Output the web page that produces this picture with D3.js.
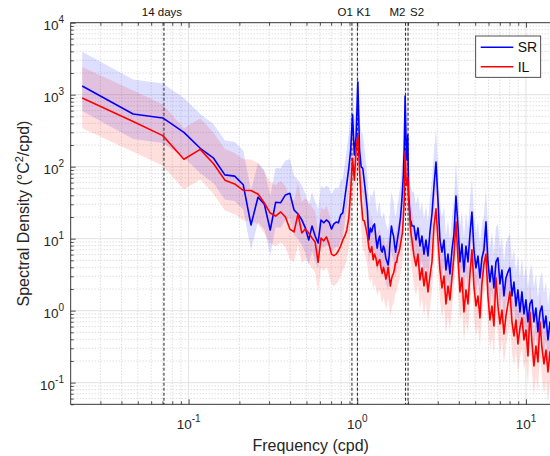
<!DOCTYPE html>
<html>
<head>
<meta charset="utf-8">
<script src="https://cdn.jsdelivr.net/npm/d3@7"></script>
<style>
body { margin: 0; background: #fff; }
svg { display: block; font-family: "Liberation Sans", Arial, Helvetica, sans-serif; }
</style>
</head>
<body>
<div id="chart"></div>
<script>
// frequencies (cpd)
let freq = [
  0.0234,0.0469,0.0703,0.0938,0.1172,0.1406,0.1641,0.1875,0.2109,0.2344,
  0.2578,0.2813,0.3047,0.3281,0.3516,0.375,0.3984,0.4219,0.4453,0.4688,
  0.4922,0.5156,0.5391,0.5625,0.5859,0.6094,0.6328,0.6563,0.6797,0.7031,
  0.7266,0.75,0.7734,0.7969,0.8203,0.8438,0.8672,0.8906,0.9141,0.9375,
  0.9609,0.9844,1.0078,1.0313,1.0547,1.0781,1.1016,1.125,1.1484,1.1719,
  1.1953,1.2188,1.2422,1.2656,1.2891,1.3125,1.3359,1.3594,1.3828,1.4063,
  1.4297,1.4531,1.4766,1.5,1.5234,1.5469,1.5703,1.5938,1.6172,1.6406,
  1.6641,1.6875,1.7109,1.7344,1.7578,1.7813,1.8047,1.8281,1.8516,1.875,
  1.8984,1.9219,1.9453,1.9688,1.9922,2.0156,2.0391,2.0625,2.0859,2.1094,
  2.168,2.228,2.29,2.353,2.418,2.486,2.554,2.625,2.698,2.772,
  2.849,2.928,3.009,3.092,3.178,3.266,3.356,3.449,3.544,3.642,
  3.743,3.847,3.953,4.062,4.175,4.29,4.409,4.531,4.656,4.785,
  4.917,5.053,5.193,5.337,5.484,5.636,5.792,5.952,6.117,6.286,
  6.46,6.639,6.823,7.012,7.205,7.405,7.61,7.82,8.036,8.26,
  8.489,8.724,8.965,9.213,9.469,9.73,10.0,10.28,10.56,10.85,
  11.15,11.46,11.78,12.11,12.44,12.79,13.14,13.51,13.88,14.26
];

// spectral density, SR (degC^2/cpd)
let srPsd = [
  1320,540,475,300,180,131,77,74,56,15.5,
  37.6,30,13.2,32,31.6,40.5,42.7,25,22,18.2,
  14.1,9.6,15,10.9,8.7,18.2,16.6,18.2,17,13.6,
  16,17,16.6,21.4,22.8,36.7,59,95,171,524,
  145,267,1500,171,99,95,61,40,25,9.6,
  14,12.4,15,16,10.2,7.4,9.6,10.9,7.0,6.5,
  7.9,7.0,5.4,4.8,4.3,5.9,10.2,15,12.4,10.9,
  8.2,6.5,8.2,10.2,12.4,15.5,20,29,45,76,
  181,960,235,124,275,40,27,18.2,17,15,
  15.0,9.6,14.1,7.9,10.9,6.1,9.6,5.75,12.4,22.0,
  53.9,116,34.5,9.6,6.5,9.6,3.67,6.1,3.23,7.0,
  11.6,39.2,15.0,4.75,8.4,3.45,7.9,4.75,11.6,23.5,
  7.0,3.92,5.75,2.85,5.4,7.0,17.1,4.75,2.5,4.18,
  2.07,4.75,5.4,2.35,3.67,1.6,2.85,3.45,3.92,1.6,
  2.5,1.16,1.94,0.959,1.82,0.9,1.41,0.697,1.24,1.41,
  0.697,1.09,0.506,0.959,1.16,0.575,0.844,0.392,0.697,0.475
];

// spectral density, IL (degC^2/cpd)
let ilPsd = [
  900,425,270,127,174,110,65,57.5,47,46.6,
  41.7,31.3,22.7,20.6,23.5,20,13.6,12.4,22,12,
  13.6,12,10.2,9,4.7,10.2,9.3,10.6,8.4,6.1,
  5.8,6.1,6.8,7.9,9.6,10.9,13.2,19.4,47,131,
  65,171,275,90,34.5,18.2,17.6,14,10.9,7.4,
  6.5,7.7,5.1,6.1,5.4,4.2,4.8,5.1,3.9,3.3,
  4.0,3.4,2.75,3.2,4.0,3.0,2.2,2.7,3.1,3.3,
  3.9,4.7,4.7,5.8,6.3,7.0,8.4,10.2,12,19.4,
  34.5,162,70,55,71,36.7,25,15.5,11.2,9.6,
  5.75,4.18,6.1,2.67,3.92,2.2,3.45,1.82,3.03,4.75,
  15.0,25.9,9.6,3.67,2.07,3.03,1.24,2.2,1.41,2.85,
  5.75,17.1,5.4,1.82,2.85,0.959,1.94,1.24,3.23,7.0,
  2.2,1.16,1.6,0.792,2.35,4.45,6.1,1.6,0.743,1.16,
  0.613,2.85,1.16,0.654,1.02,0.475,0.844,1.24,1.82,0.697,
  0.445,0.743,0.345,0.575,0.792,0.392,0.539,0.235,0.959,0.367,
  0.171,0.323,0.194,0.697,0.303,0.182,0.284,0.141,0.267,0.182
];

// 95% confidence factors [lower, upper]
let srCi = [0.45, 3.0];
let ilCi = [0.38, 2.7];

let seriesNames = ['SR', 'IL'];
let tideNames = ['14 days', 'O1', 'K1', 'M2', 'S2'];
let tideFreqs = [1 / 14, 0.9295, 1.0027, 1.9323, 2.0];
let xTickExps = [-1, 0, 1];
let yTickExps = [-1, 0, 1, 2, 3, 4];

let width = 550;
let height = 456;
let pLeft = 70.7, pRight = 550.6, pTop = 22.7, pBottom = 404.3;
let axisColor = '#262626';

let x = d3.scaleLog().domain([0.02, 14]).range([pLeft, pRight]);
let y = d3.scaleLog().domain([0.05, 1e4]).range([pBottom, pTop]);

let svg = d3.select('#chart').append('svg')
            .attr('width', width)
            .attr('height', height);

svg.append('defs').append('clipPath').attr('id', 'plot-clip')
    .append('rect')
        .attr('x', pLeft).attr('y', pTop)
        .attr('width', pRight - pLeft).attr('height', pBottom - pTop);

// grid values
let xMajor = [], xMinor = [], yMajor = [], yMinor = [];
for (let e = -2; e <= 1; e++) {
    for (let m = 1; m <= 9; m++) {
        let v = m * Math.pow(10, e);
        if (v <= x.domain()[0] || v >= x.domain()[1]) continue;
        (m == 1 ? xMajor : xMinor).push(v);
    }
}
for (let e = -2; e <= 4; e++) {
    for (let m = 1; m <= 9; m++) {
        let v = m * Math.pow(10, e);
        if (v < y.domain()[0] || v > y.domain()[1]) continue;
        (m == 1 ? yMajor : yMinor).push(v);
    }
}

let grid = svg.append('g').attr('clip-path', 'url(#plot-clip)');
grid.selectAll('.gx-minor').data(xMinor).join('line')
    .attr('x1', d => x(d)).attr('x2', d => x(d))
    .attr('y1', pTop).attr('y2', pBottom)
    .attr('stroke', '#c4c4c4').attr('stroke-width', 0.8).attr('stroke-dasharray', '1,2');
grid.selectAll('.gy-minor').data(yMinor).join('line')
    .attr('x1', pLeft).attr('x2', pRight)
    .attr('y1', d => y(d)).attr('y2', d => y(d))
    .attr('stroke', '#c4c4c4').attr('stroke-width', 0.8).attr('stroke-dasharray', '1,2');
grid.selectAll('.gx-major').data(xMajor).join('line')
    .attr('x1', d => x(d)).attr('x2', d => x(d))
    .attr('y1', pTop).attr('y2', pBottom)
    .attr('stroke', '#dcdcdc').attr('stroke-width', 0.8);
grid.selectAll('.gy-major').data(yMajor).join('line')
    .attr('x1', pLeft).attr('x2', pRight)
    .attr('y1', d => y(d)).attr('y2', d => y(d))
    .attr('stroke', '#dcdcdc').attr('stroke-width', 0.8);

// data
let sr = freq.map((f, i) => ({f: f, v: srPsd[i]}));
let il = freq.map((f, i) => ({f: f, v: ilPsd[i]}));

let band = ci => d3.area()
    .x(d => x(d.f))
    .y0(d => y(d.v * ci[0]))
    .y1(d => y(d.v * ci[1]));
let line = d3.line().x(d => x(d.f)).y(d => y(d.v));

let plot = svg.append('g').attr('clip-path', 'url(#plot-clip)');
plot.append('path').datum(sr).attr('d', band(srCi))
    .attr('fill', '#0000ff').attr('fill-opacity', 0.13);
plot.append('path').datum(il).attr('d', band(ilCi))
    .attr('fill', '#ff0000').attr('fill-opacity', 0.13);

// tidal constituent markers
let anchors = {'14 days': 'middle', 'O1': 'end', 'K1': 'start', 'M2': 'end', 'S2': 'start'};
let nudge = {'14 days': -2, 'O1': 1, 'K1': -1, 'M2': 0, 'S2': 2};
plot.selectAll('.tide').data(tideFreqs).join('line')
    .attr('x1', d => x(d)).attr('x2', d => x(d))
    .attr('y1', pTop).attr('y2', pBottom)
    .attr('stroke', '#333').attr('stroke-width', 1.1).attr('stroke-dasharray', '3,2');

plot.append('path').datum(sr).attr('d', line)
    .attr('fill', 'none').attr('stroke', '#0000ff').attr('stroke-width', 1.6)
    .attr('stroke-linejoin', 'round');
plot.append('path').datum(il).attr('d', line)
    .attr('fill', 'none').attr('stroke', '#ff0000').attr('stroke-width', 1.6)
    .attr('stroke-linejoin', 'round');

svg.selectAll('.tide-label').data(tideNames).join('text')
    .attr('x', (d, i) => x(tideFreqs[i]) + nudge[d])
    .attr('y', 16)
    .attr('text-anchor', d => anchors[d])
    .attr('font-size', 11.5)
    .attr('fill', '#111')
    .text(d => d);

// axes box and ticks
let tickAxis = (axis, scale, vals, size, tr) => {
    let g = svg.append('g').attr('transform', tr)
        .call(axis(scale).tickValues(vals).tickSize(size).tickSizeOuter(0).tickFormat(''));
    g.select('.domain').remove();
    g.selectAll('line').attr('stroke', axisColor).attr('stroke-width', 0.8);
};
tickAxis(d3.axisBottom, x, xMajor, -5, `translate(0,${pBottom})`);
tickAxis(d3.axisBottom, x, xMinor, -3, `translate(0,${pBottom})`);
tickAxis(d3.axisTop, x, xMajor, -5, `translate(0,${pTop})`);
tickAxis(d3.axisTop, x, xMinor, -3, `translate(0,${pTop})`);
tickAxis(d3.axisLeft, y, yMajor, -5, `translate(${pLeft},0)`);
tickAxis(d3.axisLeft, y, yMinor, -3, `translate(${pLeft},0)`);

svg.append('rect')
    .attr('x', pLeft).attr('y', pTop)
    .attr('width', pRight - pLeft).attr('height', pBottom - pTop)
    .attr('fill', 'none').attr('stroke', axisColor).attr('stroke-width', 0.9);

// tick labels
let xl = svg.selectAll('.xlab').data(xTickExps).join('text')
    .attr('x', d => x(Math.pow(10, d)))
    .attr('y', 429)
    .attr('text-anchor', 'middle')
    .attr('font-size', 13.5)
    .attr('fill', axisColor);
xl.append('tspan').text('10');
xl.append('tspan').attr('dy', -7).attr('font-size', 10).text(d => d);

let yl = svg.selectAll('.ylab').data(yTickExps).join('text')
    .attr('x', 64)
    .attr('y', d => y(Math.pow(10, d)) + 7.5)
    .attr('text-anchor', 'end')
    .attr('font-size', 13.5)
    .attr('fill', axisColor);
yl.append('tspan').text('10');
yl.append('tspan').attr('dy', -7).attr('font-size', 10).text(d => d);

// axis titles
svg.append('text')
    .attr('x', (pLeft + pRight) / 2)
    .attr('y', 451)
    .attr('text-anchor', 'middle')
    .attr('font-size', 16)
    .attr('fill', axisColor)
    .text('Frequency (cpd)');

let yt = svg.append('text')
    .attr('transform', `translate(28.5,${(pTop + pBottom) / 2}) rotate(-90)`)
    .attr('text-anchor', 'middle')
    .attr('font-size', 16)
    .attr('fill', axisColor);
yt.append('tspan').text('Spectral Density (°C');
yt.append('tspan').attr('dy', -6).attr('font-size', 11).text('2');
yt.append('tspan').attr('dy', 6).text('/cpd)');

// legend
let lg = svg.append('g');
lg.append('rect')
    .attr('x', 475.7).attr('y', 36)
    .attr('width', 65).attr('height', 41.3)
    .attr('fill', '#fff').attr('stroke', axisColor).attr('stroke-width', 0.8);
let legendColors = ['#0000ff', '#ff0000'];
lg.selectAll('.lg-line').data(seriesNames).join('line')
    .attr('x1', 480.7).attr('x2', 513.3)
    .attr('y1', (d, i) => 47.3 + i * 19.4).attr('y2', (d, i) => 47.3 + i * 19.4)
    .attr('stroke', (d, i) => legendColors[i]).attr('stroke-width', 1.6);
lg.selectAll('.lg-text').data(seriesNames).join('text')
    .attr('x', 517.7)
    .attr('y', (d, i) => 47.3 + i * 19.4 + 5)
    .attr('font-size', 14)
    .attr('fill', '#111')
    .text(d => d);
</script>
</body>
</html>
